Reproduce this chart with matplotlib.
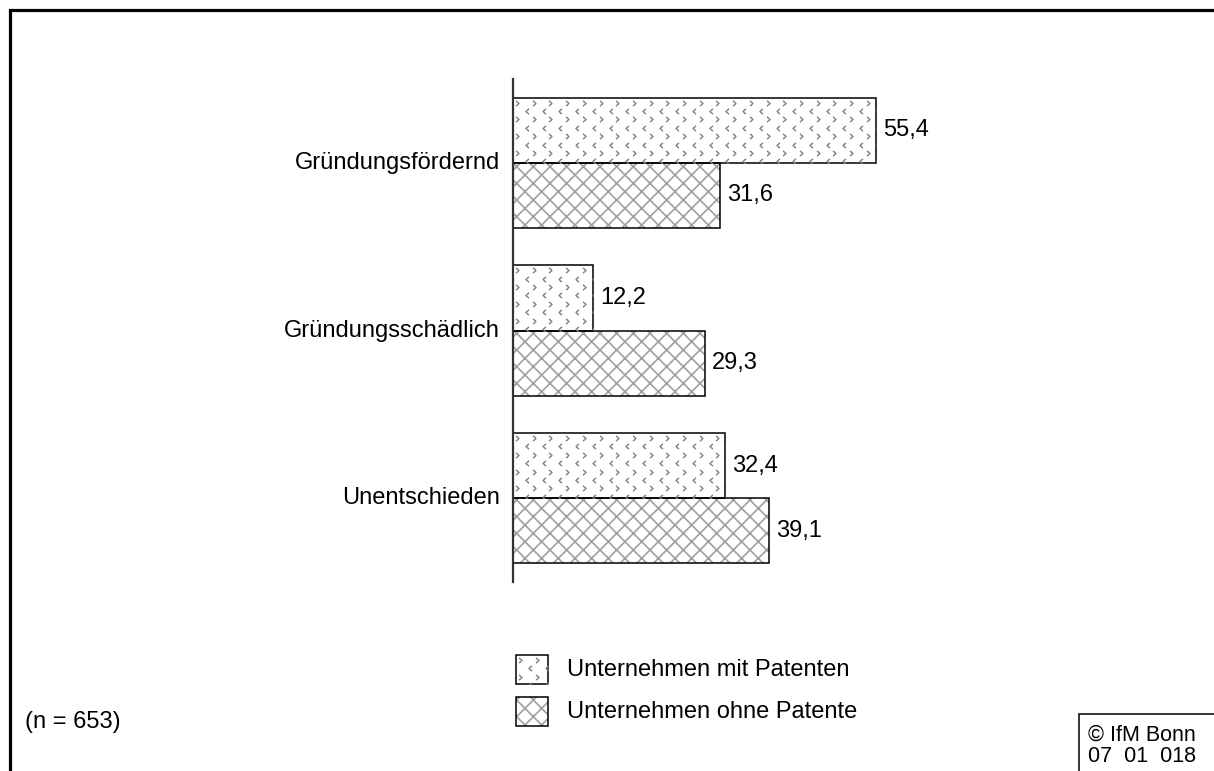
import numpy as np
import matplotlib
matplotlib.use("Agg")
import matplotlib.pyplot as plt
from matplotlib.patches import Rectangle
from matplotlib.lines import Line2D
from matplotlib.path import Path
from matplotlib.transforms import IdentityTransform

# --- data -------------------------------------------------------------
categories = ["Gründungsfördernd", "Gründungsschädlich", "Unentschieden"]
series_names = ["Unternehmen mit Patenten", "Unternehmen ohne Patente"]
mit_patenten = [55.4, 12.2, 32.4]
ohne_patente = [31.6, 29.3, 39.1]
sample_note = "(n = 653)"
source_note = ["© IfM Bonn", "07  01  018"]

plt.rcParams["font.family"] = ["Liberation Sans", "DejaVu Sans"]
plt.rcParams["hatch.linewidth"] = 1.2

W, H, DPI = 1214, 771, 100
fig = plt.figure(figsize=(W / DPI, H / DPI), dpi=DPI)
FS = 17

HATCH_GREY = "#a0a0a0"
CHEV_GREY = "#808080"

# chevron markers used for the dotted fill
chev_right = Path([(-0.5, 0.9), (0.5, 0.0), (-0.5, -0.9)],
                  [Path.MOVETO, Path.LINETO, Path.LINETO])
chev_left = Path([(0.5, 0.9), (-0.5, 0.0), (0.5, -0.9)],
                 [Path.MOVETO, Path.LINETO, Path.LINETO])


def chevron_fill(x0, y0, x1, y1, clip_patch, period=16.7):
    """Fill a pixel box (y0 bottom, y1 top) with a staggered chevron texture."""
    xs = np.arange(x0 + 4, x1 + period, period)
    ys = np.arange(y1 - 5, y0 - period, -period)
    gx, gy = np.meshgrid(xs, ys)
    for dx, dy, mk in [(0, 0, chev_right), (period * 0.6, -period * 0.5, chev_left)]:
        ln = Line2D((gx + dx).ravel(), (gy + dy).ravel(), linestyle="none",
                    marker=mk, markersize=3.8, markeredgewidth=1.0,
                    markerfacecolor="none", markeredgecolor=CHEV_GREY,
                    transform=IdentityTransform())
        ln.set_clip_path(clip_patch)
        fig.add_artist(ln)


# --- axes -------------------------------------------------------------
ax_left, ax_right = 513, 513 + 655
ax_top, ax_bot = 79, 582
ax = fig.add_axes([ax_left / W, 1 - ax_bot / H,
                   (ax_right - ax_left) / W, (ax_bot - ax_top) / H])
ax.set_xlim(0, 100)
ax.set_ylim(2.5, -0.5)
ax.axis("off")
ax.plot([0, 0], [-0.5, 2.5], color="#333333", lw=1.6, clip_on=False)

ypos = np.arange(len(categories))
h = 0.388

# hatched bar bodies
ohne_fill = ax.barh(ypos + h / 2, ohne_patente, height=h, color="white",
                    edgecolor=HATCH_GREY, linewidth=0, hatch="xx")
mit_fill = ax.barh(ypos - h / 2, mit_patenten, height=h, color="white",
                   edgecolor="none", linewidth=0)
# black outlines
ax.barh(ypos + h / 2, ohne_patente, height=h, fill=False,
        edgecolor="black", linewidth=1.1)
ax.barh(ypos - h / 2, mit_patenten, height=h, fill=False,
        edgecolor="black", linewidth=1.1)

fig.canvas.draw()
for rect in mit_fill.patches:
    bb = rect.get_window_extent()
    chevron_fill(bb.x0, bb.y0, bb.x1, bb.y1, rect)

# value labels and categories
for i, (m, o) in enumerate(zip(mit_patenten, ohne_patente)):
    ax.text(m + 1.1, i - h / 2, f"{m:.1f}".replace(".", ","), va="center",
            ha="left", fontsize=FS)
    ax.text(o + 1.1, i + h / 2, f"{o:.1f}".replace(".", ","), va="center",
            ha="left", fontsize=FS)
    ax.text(-2.0, i, categories[i], va="center", ha="right", fontsize=FS)

# --- legend -----------------------------------------------------------
leg_x, leg_w, leg_h = 516, 32, 29
for k, (name, top) in enumerate(zip(series_names, [655, 697])):
    y0 = H - top - leg_h
    if k == 0:
        body = Rectangle((leg_x, y0), leg_w, leg_h, facecolor="white",
                         edgecolor="none", transform=IdentityTransform())
        fig.add_artist(body)
        chevron_fill(leg_x, y0, leg_x + leg_w, y0 + leg_h, body)
    else:
        body = Rectangle((leg_x, y0), leg_w, leg_h, facecolor="white",
                         edgecolor=HATCH_GREY, linewidth=0, hatch="xx",
                         transform=IdentityTransform())
        fig.add_artist(body)
    fig.add_artist(Rectangle((leg_x, y0), leg_w, leg_h, fill=False,
                             edgecolor="black", linewidth=1.1,
                             transform=IdentityTransform()))
    fig.text(567 / W, 1 - (top + leg_h / 2) / H, name, va="center",
             ha="left", fontsize=FS)

# --- notes and frame --------------------------------------------------
fig.text(25 / W, 1 - 722 / H, sample_note, va="center", ha="left", fontsize=FS)

fig.add_artist(Rectangle((1079, -20), 200, H - 714 + 20, fill=False,
                         edgecolor="black", linewidth=1.1,
                         transform=IdentityTransform()))
fig.text(1088 / W, 1 - 735 / H, source_note[0], va="center", ha="left",
         fontsize=15.5)
fig.text(1088 / W, 1 - 757 / H, source_note[1], va="center", ha="left",
         fontsize=15.5)

fig.add_artist(Rectangle((9.5, -30), W + 40, H - 9.5 + 30, fill=False,
                         edgecolor="black", linewidth=2.3,
                         transform=IdentityTransform()))

fig.savefig("out.png", dpi=DPI)
